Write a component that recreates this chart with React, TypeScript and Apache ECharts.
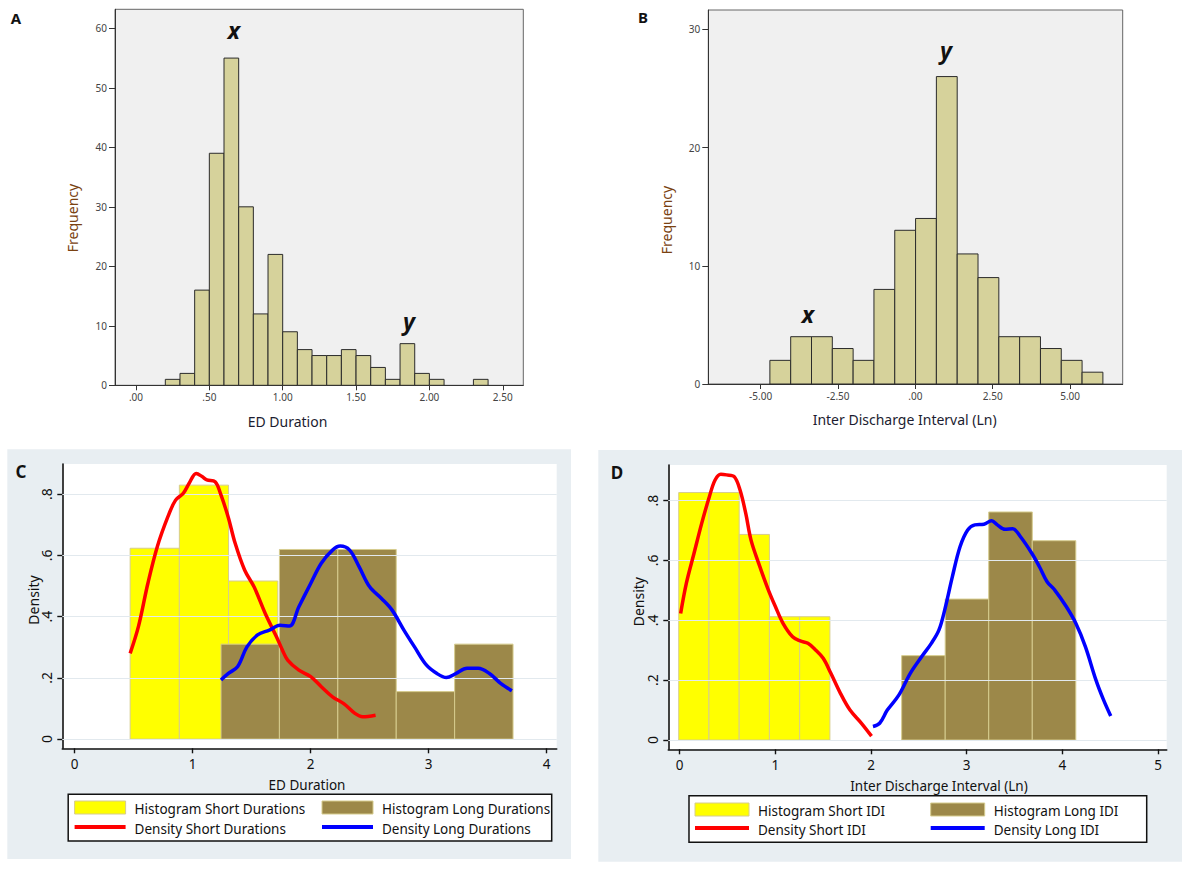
import React, { useEffect, useRef } from "react";
import * as echarts from "echarts";

// ---------- Panel A: ED Duration histogram (SPSS) ----------
const A_BIN_START = 0.2;
const A_BIN_WIDTH = 0.1;
const A_COUNTS = [1, 2, 16, 39, 55, 30, 12, 22, 9, 6, 5, 5, 6, 5, 3, 1, 7, 2, 1, 0, 0, 1];
const A_X_TICKS = [0, 0.5, 1, 1.5, 2, 2.5];
const A_Y_TICKS = [0, 10, 20, 30, 40, 50, 60];

// ---------- Panel B: Inter Discharge Interval histogram (SPSS) ----------
const B_BIN_START = -4.7;
const B_BIN_WIDTH = 0.6725;
const B_COUNTS = [2, 4, 4, 3, 2, 8, 13, 14, 26, 11, 9, 4, 4, 3, 2, 1];
const B_X_TICKS = [-5, -2.5, 0, 2.5, 5];
const B_Y_TICKS = [0, 10, 20, 30];

// ---------- Panel C: ED Duration, short / long ----------
const C_SHORT_START = 0.47;
const C_SHORT_WIDTH = 0.417;
const C_SHORT_HEIGHTS = [0.623, 0.829, 0.516];
const C_LONG_START = 1.24;
const C_LONG_WIDTH = 0.495;
const C_LONG_HEIGHTS = [0.31, 0.619, 0.619, 0.155, 0.31];
const C_DENS_SHORT_X = [0.47, 0.54, 0.62, 0.7, 0.79, 0.855, 0.92, 0.97, 1.03, 1.08, 1.12, 1.19, 1.235, 1.3, 1.36, 1.44, 1.52, 1.615, 1.71, 1.76, 1.805, 1.9, 2.0, 2.09, 2.185, 2.28, 2.375, 2.44, 2.55];
const C_DENS_SHORT_Y = [0.28, 0.367, 0.508, 0.628, 0.726, 0.78, 0.802, 0.835, 0.867, 0.857, 0.846, 0.84, 0.802, 0.726, 0.639, 0.552, 0.497, 0.41, 0.334, 0.291, 0.258, 0.225, 0.204, 0.171, 0.138, 0.116, 0.084, 0.073, 0.078];
const C_DENS_LONG_X = [1.24, 1.3, 1.38, 1.46, 1.55, 1.65, 1.74, 1.82, 1.9, 2.0, 2.09, 2.185, 2.25, 2.33, 2.41, 2.5, 2.6, 2.69, 2.79, 2.88, 2.98, 3.07, 3.15, 3.23, 3.325, 3.42, 3.515, 3.61, 3.705];
const C_DENS_LONG_Y = [0.193, 0.214, 0.236, 0.301, 0.34, 0.356, 0.372, 0.369, 0.432, 0.508, 0.574, 0.617, 0.63, 0.617, 0.563, 0.497, 0.459, 0.421, 0.356, 0.301, 0.242, 0.214, 0.201, 0.214, 0.231, 0.231, 0.214, 0.182, 0.158];
const C_X_TICKS = [0, 1, 2, 3, 4];

// ---------- Panel D: Inter Discharge Interval, short / long ----------
const D_SHORT_START = -0.01;
const D_SHORT_WIDTH = 0.316;
const D_SHORT_HEIGHTS = [0.827, 0.827, 0.687, 0.412, 0.412];
const D_LONG_START = 2.32;
const D_LONG_WIDTH = 0.455;
const D_LONG_HEIGHTS = [0.282, 0.471, 0.762, 0.666];
const D_DENS_SHORT_X = [0.01, 0.07, 0.15, 0.23, 0.31, 0.37, 0.43, 0.49, 0.57, 0.63, 0.69, 0.745, 0.825, 0.92, 1.0, 1.08, 1.18, 1.26, 1.34, 1.42, 1.5, 1.58, 1.68, 1.78, 1.9, 2.005];
const D_DENS_SHORT_Y = [0.423, 0.524, 0.624, 0.724, 0.813, 0.869, 0.888, 0.886, 0.88, 0.836, 0.758, 0.669, 0.591, 0.507, 0.446, 0.39, 0.345, 0.331, 0.323, 0.301, 0.273, 0.223, 0.156, 0.1, 0.056, 0.013];
const D_DENS_LONG_X = [2.02, 2.09, 2.17, 2.29, 2.41, 2.53, 2.63, 2.71, 2.77, 2.85, 2.93, 3.01, 3.085, 3.18, 3.26, 3.32, 3.4, 3.48, 3.56, 3.68, 3.76, 3.84, 3.92, 4.04, 4.14, 4.24, 4.35, 4.43, 4.505];
const D_DENS_LONG_Y = [0.045, 0.056, 0.1, 0.15, 0.223, 0.279, 0.323, 0.368, 0.435, 0.546, 0.646, 0.702, 0.719, 0.721, 0.733, 0.719, 0.704, 0.706, 0.68, 0.624, 0.579, 0.529, 0.501, 0.446, 0.39, 0.312, 0.201, 0.134, 0.08];
const D_X_TICKS = [0, 1, 2, 3, 4, 5];

const DENSITY_Y_TICKS = [0, 0.2, 0.4, 0.6, 0.8];

const FONT = "'Noto Sans', 'DejaVu Sans', sans-serif";
const SPSS_BAR = "#d6d29b";
const YELLOW = "#ffff00";
const BROWN = "#9c8849";
const BAR_EDGE = "#d6cc8e";
const PANEL_BG = "#e8eef2";

function bins(start: number, width: number, values: number[]) {
  const out: number[][] = [];
  values.forEach((v, i) => {
    if (v > 0) out.push([start + i * width, start + (i + 1) * width, v]);
  });
  return out;
}

function pairs(xs: number[], ys: number[]) {
  return xs.map((x, i) => [x, ys[i]]);
}

function histRender(fill: string, stroke: string, lw: number) {
  return (_params: any, api: any) => {
    const p0 = api.coord([api.value(0), api.value(2)]);
    const p1 = api.coord([api.value(1), 0]);
    return {
      type: "rect",
      shape: { x: p0[0], y: p0[1], width: p1[0] - p0[0], height: p1[1] - p0[1] },
      style: { fill, stroke, lineWidth: lw },
    };
  };
}

function spssFmt(v: number) {
  const s = v.toFixed(2);
  if (s.startsWith("0")) return s.slice(1);
  if (s.startsWith("-0")) return "-" + s.slice(2);
  return s;
}

function stataFmt(v: number) {
  if (v === 0) return "0";
  const s = String(+v.toFixed(1));
  return s.startsWith("0") ? s.slice(1) : s;
}

function spssX(gridIndex: number, min: number, max: number, ticks: number[]) {
  return {
    type: "value",
    gridIndex,
    min,
    max,
    axisLine: { show: true, onZero: false, lineStyle: { color: "#333", width: 1 } },
    axisTick: { show: true, customValues: ticks, length: 5, lineStyle: { color: "#333" } },
    axisLabel: { customValues: ticks, formatter: spssFmt, fontSize: 10, color: "#444", margin: 7, fontFamily: FONT },
    splitLine: { show: false },
  };
}

function spssY(gridIndex: number, max: number, ticks: number[]) {
  return {
    type: "value",
    gridIndex,
    min: 0,
    max,
    axisLine: { show: true, onZero: false, lineStyle: { color: "#333", width: 1 } },
    axisTick: { show: true, customValues: ticks, length: 6, lineStyle: { color: "#333" } },
    axisLabel: { customValues: ticks, fontSize: 10, color: "#444", margin: 8, fontFamily: FONT },
    splitLine: { show: false },
  };
}

function stataX(gridIndex: number, min: number, max: number, ticks: number[]) {
  return {
    type: "value",
    gridIndex,
    min,
    max,
    axisLine: { show: true, onZero: false, lineStyle: { color: "#111", width: 1.6 } },
    axisTick: { show: true, customValues: ticks, length: 5, lineStyle: { color: "#111", width: 1.4 } },
    axisLabel: { customValues: ticks, fontSize: 13.5, lineHeight: 13, color: "#111", margin: 9, fontFamily: FONT },
    splitLine: { show: false },
  };
}

function stataY(gridIndex: number, min: number, max: number, ticks: number[]) {
  return {
    type: "value",
    gridIndex,
    min,
    max,
    axisLine: { show: true, onZero: false, lineStyle: { color: "#111", width: 1.6 } },
    axisTick: { show: true, customValues: ticks, length: 5, lineStyle: { color: "#111", width: 1.4 } },
    axisLabel: {
      customValues: ticks,
      formatter: stataFmt,
      fontSize: 14,
      color: "#111",
      margin: 9,
      rotate: 90,
      align: "center",
      verticalAlign: "bottom",
      fontFamily: FONT,
    },
    splitLine: { show: false },
  };
}

function txt(
  x: number,
  y: number,
  text: string,
  size: number,
  opts: { color?: string; weight?: string; italic?: boolean; rotate?: boolean; align?: string; lineHeight?: number } = {}
) {
  const align = opts.align || "center";
  return {
    type: "text",
    x,
    y,
    rotation: opts.rotate ? Math.PI / 2 : 0,
    z: 100,
    silent: true,
    style: {
      text,
      fontSize: size,
      lineHeight: opts.lineHeight || size,
      fontFamily: FONT,
      fontWeight: opts.weight || "normal",
      fontStyle: opts.italic ? "italic" : "normal",
      fill: opts.color || "#111",
      align,
      verticalAlign: "middle",
      textAlign: align,
      textVerticalAlign: "middle",
    },
  };
}

function legendBlock(
  box: [number, number, number, number],
  col1: number,
  col2: number,
  swW: number,
  rowHist: number,
  rowDens: number,
  textOffset: number,
  labels: [string, string, string, string]
) {
  const [bx, by, bw, bh] = box;
  const els: any[] = [
    { type: "rect", z: 99, silent: true, shape: { x: bx, y: by, width: bw, height: bh }, style: { fill: "#ffffff", stroke: "#111", lineWidth: 1.5 } },
    { type: "rect", z: 100, silent: true, shape: { x: col1, y: rowHist - 7, width: swW, height: 13 }, style: { fill: YELLOW, stroke: BAR_EDGE, lineWidth: 1 } },
    { type: "rect", z: 100, silent: true, shape: { x: col2, y: rowHist - 7, width: swW, height: 13 }, style: { fill: BROWN, stroke: BAR_EDGE, lineWidth: 1 } },
    { type: "line", z: 100, silent: true, shape: { x1: col1, y1: rowDens - 2, x2: col1 + swW, y2: rowDens - 2 }, style: { stroke: "#ff0000", lineWidth: 4 } },
    { type: "line", z: 100, silent: true, shape: { x1: col2, y1: rowDens - 2, x2: col2 + swW, y2: rowDens - 2 }, style: { stroke: "#0000ff", lineWidth: 4 } },
    txt(col1 + swW + textOffset, rowHist + 1, labels[0], 13.5, { align: "left" }),
    txt(col2 + swW + textOffset, rowHist + 1, labels[1], 13.5, { align: "left" }),
    txt(col1 + swW + textOffset, rowDens, labels[2], 13.5, { align: "left" }),
    txt(col2 + swW + textOffset, rowDens, labels[3], 13.5, { align: "left" }),
  ];
  return els;
}

function gridLines(xAxisIndex: number, yAxisIndex: number) {
  return {
    type: "line",
    xAxisIndex,
    yAxisIndex,
    data: [],
    z: 1,
    silent: true,
    markLine: {
      silent: true,
      symbol: ["none", "none"],
      label: { show: false },
      lineStyle: { color: "#e2e9ee", width: 1, type: "solid" },
      data: DENSITY_Y_TICKS.map((v) => ({ yAxis: v })),
    },
  };
}

function densityLine(name: string, xAxisIndex: number, yAxisIndex: number, xs: number[], ys: number[], color: string) {
  return {
    type: "line",
    name,
    xAxisIndex,
    yAxisIndex,
    data: pairs(xs, ys),
    smooth: 0.35,
    showSymbol: false,
    z: 5,
    lineStyle: { color, width: 3.5 },
    itemStyle: { color },
  };
}

function histSeries(name: string, xAxisIndex: number, yAxisIndex: number, data: number[][], fill: string, stroke: string, lw: number, z: number) {
  return {
    type: "custom",
    name,
    xAxisIndex,
    yAxisIndex,
    data,
    z,
    encode: { x: [0, 1], y: 2 },
    renderItem: histRender(fill, stroke, lw),
  };
}

export default function App() {
  const ref = useRef<HTMLDivElement>(null);

  useEffect(() => {
    if (!ref.current) return;
    const chart = echarts.init(ref.current, undefined, { renderer: "svg" });

    const option: any = {
      animation: false,
      backgroundColor: "#ffffff",
      textStyle: { fontFamily: FONT },
      grid: [
        { left: 115, top: 9.3, width: 408.3, height: 376, show: true, backgroundColor: "#f0f0f0", borderColor: "#666", borderWidth: 1, containLabel: false, outerBoundsMode: "none" },
        { left: 708.3, top: 10, width: 414.4, height: 374, show: true, backgroundColor: "#f0f0f0", borderColor: "#666", borderWidth: 1, containLabel: false, outerBoundsMode: "none" },
        { left: 62.3, top: 464, width: 494.4, height: 284.3, show: true, backgroundColor: "#ffffff", borderWidth: 0, containLabel: false, outerBoundsMode: "none" },
        { left: 668.3, top: 465, width: 498.4, height: 284.3, show: true, backgroundColor: "#ffffff", borderWidth: 0, containLabel: false, outerBoundsMode: "none" },
      ],
      xAxis: [
        spssX(0, -0.143, 2.64, A_X_TICKS),
        spssX(1, -6.69, 6.7, B_X_TICKS),
        stataX(2, -0.105, 4.085, C_X_TICKS),
        stataX(3, -0.119, 5.09, D_X_TICKS),
      ],
      yAxis: [
        spssY(0, 63.2, A_Y_TICKS),
        spssY(1, 31.63, B_Y_TICKS),
        stataY(2, -0.03, 0.898, DENSITY_Y_TICKS),
        stataY(3, -0.031, 0.919, DENSITY_Y_TICKS),
      ],
      series: [
        histSeries("ED Duration", 0, 0, bins(A_BIN_START, A_BIN_WIDTH, A_COUNTS), SPSS_BAR, "#2b2b2b", 1, 2),
        histSeries("Inter Discharge Interval (Ln)", 1, 1, bins(B_BIN_START, B_BIN_WIDTH, B_COUNTS), SPSS_BAR, "#2b2b2b", 1, 2),

        gridLines(2, 2),
        histSeries("Histogram Short Durations", 2, 2, bins(C_SHORT_START, C_SHORT_WIDTH, C_SHORT_HEIGHTS), YELLOW, BAR_EDGE, 1, 2),
        histSeries("Histogram Long Durations", 2, 2, bins(C_LONG_START, C_LONG_WIDTH, C_LONG_HEIGHTS), BROWN, BAR_EDGE, 1, 3),
        densityLine("Density Short Durations", 2, 2, C_DENS_SHORT_X, C_DENS_SHORT_Y, "#ff0000"),
        densityLine("Density Long Durations", 2, 2, C_DENS_LONG_X, C_DENS_LONG_Y, "#0000ff"),

        gridLines(3, 3),
        histSeries("Histogram Short IDI", 3, 3, bins(D_SHORT_START, D_SHORT_WIDTH, D_SHORT_HEIGHTS), YELLOW, BAR_EDGE, 1, 2),
        histSeries("Histogram Long IDI", 3, 3, bins(D_LONG_START, D_LONG_WIDTH, D_LONG_HEIGHTS), BROWN, BAR_EDGE, 1, 3),
        densityLine("Density Short IDI", 3, 3, D_DENS_SHORT_X, D_DENS_SHORT_Y, "#ff0000"),
        densityLine("Density Long IDI", 3, 3, D_DENS_LONG_X, D_DENS_LONG_Y, "#0000ff"),
      ],
      graphic: [
        { type: "rect", z: -10, silent: true, shape: { x: 7.3, y: 449.3, width: 563.7, height: 409.7 }, style: { fill: PANEL_BG } },
        { type: "rect", z: -10, silent: true, shape: { x: 598.3, y: 450, width: 583.7, height: 411.7 }, style: { fill: PANEL_BG } },

        // panel letters
        txt(16, 18, "A", 15, { weight: "bold" }),
        txt(643, 17, "B", 15, { weight: "bold" }),
        txt(21, 471, "C", 17, { weight: "bold" }),
        txt(617, 472, "D", 17, { weight: "bold" }),

        // SPSS titles
        txt(72.7, 218, "Frequency", 14, { rotate: true, color: "#7a4212" }),
        txt(287.5, 421.7, "ED Duration", 14, { color: "#1c1c30" }),
        txt(666.7, 220, "Frequency", 14, { rotate: true, color: "#7a4212" }),
        txt(904.7, 419.3, "Inter Discharge Interval (Ln)", 14, { color: "#1c1c30" }),

        // peak annotations
        txt(234, 30, "x", 23, { weight: "bold", italic: true }),
        txt(409, 320.5, "y", 23, { weight: "bold", italic: true }),
        txt(808, 314, "x", 23, { weight: "bold", italic: true }),
        txt(946, 49.5, "y", 23, { weight: "bold", italic: true }),

        // Stata titles
        txt(33, 600, "Density", 14, { rotate: true }),
        txt(307, 785, "ED Duration", 13.5),
        txt(638, 601.7, "Density", 14, { rotate: true }),
        txt(939, 785.5, "Inter Discharge Interval (Ln)", 13.5),

        ...legendBlock([68.2, 794.3, 483.5, 46.7], 74.6, 322, 51, 808, 829, 9, [
          "Histogram Short Durations",
          "Histogram Long Durations",
          "Density Short Durations",
          "Density Long Durations",
        ]),
        ...legendBlock([689, 795.7, 457.7, 46.6], 695, 930.7, 54, 810, 830, 9, [
          "Histogram Short IDI",
          "Histogram Long IDI",
          "Density Short IDI",
          "Density Long IDI",
        ]),
      ],
    };

    chart.setOption(option);
    return () => {
      chart.dispose();
    };
  }, []);

  return (
    <div
      ref={ref}
      style={{ position: "absolute", left: 0, top: 0, width: 1190, height: 870 }}
    />
  );
}
